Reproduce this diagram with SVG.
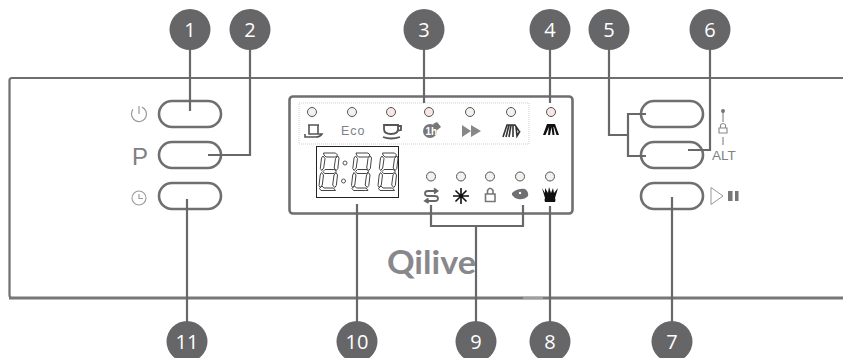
<svg xmlns="http://www.w3.org/2000/svg" width="843" height="358" viewBox="0 0 843 358">
<style>
.num{font-family:"Open Sans","Liberation Sans",sans-serif;font-size:20px;fill:#fff;text-anchor:middle}
.bub{fill:#666668}
.btn{fill:#fff;stroke:#6f6f72;stroke-width:2.6}
.conn{fill:none;stroke:#68686b;stroke-width:2.2}
.led{fill:#f3f0ee;stroke:#555;stroke-width:1}
.ledp{fill:#f6e6e4;stroke:#555;stroke-width:1}
.ic{fill:none;stroke:#666;stroke-width:1.6}
.icd{fill:none;stroke:#111;stroke-width:1.6}
.seg{fill:none;stroke:#444;stroke-width:1}
.lab{font-family:"Liberation Sans",Arial,sans-serif;fill:#808083}
</style>
<defs>
<g id="digit" class="seg">
<path d="M3.500 0H15.500L17.500 2L16 4H6L4 2Z"/>
<path d="M3 3L5 5.500L3.700 15L1.700 17.500L.3 15.500L1.500 5Z"/>
<path d="M17.800 3L19 5L17.800 15.500L16.200 17.500L14.200 15L15.500 5.500Z"/>
<path d="M3 18.500L5 16.500H14.500L16 18.500L14 20.500H4.500Z"/>
<path d="M1.500 19.500L3.500 22L2.300 32L.2 34.500L-1 32.500L.2 22Z"/>
<path d="M16 19.500L17.500 22L16.300 32.500L14.700 34.500L12.700 32L14 22Z"/>
<path d="M2 33L4 35H13.500L15.500 37.500L13 37.500H1L-.5 35.500Z"/>
</g>
</defs>
<g id="panel">
<path d="M843 78H12Q9.500 78 9.500 80.500V295Q9.500 298 12 298H843" fill="none" stroke="#6f6f72" stroke-width="2.200"/>
<path d="M9 298H843" stroke="#77777a" stroke-width="3.200"/>
<path d="M523 298H543" stroke="#c8c8c8" stroke-width="1"/>
<text x="387" y="274" textLength="89" lengthAdjust="spacingAndGlyphs" style="font-family:Lato,'Liberation Sans',sans-serif;font-size:32px;font-weight:700;fill:#88888c">Qilive</text>
</g>
<g id="display">
<rect x="289.500" y="96.500" width="283" height="117" rx="3.500" fill="none" stroke="#6f6f72" stroke-width="2.600"/>
<rect x="299" y="103" width="230" height="41" fill="none" stroke="#cfcfcf" stroke-width="1" stroke-dasharray="1 1"/>
<rect x="316.500" y="146.500" width="82" height="51" fill="#fff" stroke="#222" stroke-width="1"/>
<use href="#digit" transform="translate(320 153)"/>
<use href="#digit" transform="translate(352.500 153)"/>
<use href="#digit" transform="translate(379 153)"/>
<circle cx="345" cy="163" r="2" fill="none" stroke="#555"/>
<circle cx="343.500" cy="181" r="2" fill="none" stroke="#555"/>
<circle class="led" cx="312" cy="112" r="4.500"/>
<circle class="led" cx="352" cy="112" r="4.500"/>
<circle class="ledp" cx="391" cy="112" r="4.500"/>
<circle class="ledp" cx="429" cy="112" r="4.500"/>
<circle class="led" cx="470" cy="112" r="4.500"/>
<circle class="led" cx="511" cy="112" r="4.500"/>
<circle class="ledp" cx="551" cy="112" r="4.500"/>
<circle class="led" cx="431" cy="176.500" r="4.500"/>
<circle class="led" cx="461" cy="176.500" r="4.500"/>
<circle class="led" cx="490" cy="176.500" r="4.500"/>
<circle class="led" cx="520" cy="176.500" r="4.500"/>
<circle class="led" cx="550" cy="176.500" r="4.500"/>
<path class="ic" style="stroke:#555" d="M308 125H319M309 125V134H318V125M305 134V137H316Q320 137 322 134H318"/>
<text class="lab" x="341" y="135" style="font-size:12.500px;letter-spacing:1px">Eco</text>
<path class="ic" style="stroke:#555;stroke-width:1.800" d="M384 125H398V129Q398 134 391 134Q384 134 384 129ZM398 126H401V130L397 131M383 137Q391 140 400 137"/>
<circle cx="430" cy="131" r="7" fill="#777"/>
<path d="M433 124L437 122L441 127L436 131L435 128Z" fill="#777"/>
<text x="425.500" y="135" style="font-family:'Liberation Sans',sans-serif;font-size:10px;font-weight:700;fill:#fff">1h</text>
<path d="M462 125L471 131L462 137ZM471 125L481 131L471 137Z" fill="#888"/>
<path class="icd" d="M503 137L507 125H515L519 131M506 137L509 125M509 137L511 125M513 125V137M516 127L517 136L520 131" style="stroke:#333"/>
<path d="M543 135L547 124H555L559 135H556.500L554 127H553.500L554.500 135H552.500L551.500 127L550 135H548L549 127L545.500 135Z" fill="#111"/>
<path class="ic" style="stroke:#666;stroke-width:1.800" d="M437 191H428Q425 191 425 193.500Q425 196 428 196H435Q438 196 438 198.500Q438 201 435 201H426M434 188.500L437.500 191L434 193.500M428.500 198.500L425 201L428.500 203"/>
<path class="icd" d="M461 188V204M453 196H469M455.500 190.500L466.500 201.500M466.500 190.500L455.500 201.500" style="stroke-width:1.600"/>
<path class="ic" d="M485.500 194H495V201.500H485.500ZM487.500 194V190.500Q490 186 493 190.500V194" style="stroke:#777"/>
<path d="M512 193Q518 188 525 189Q529 192 528 196Q524 200 518 199Q514 198 512 195Z" fill="#6f6f72"/>
<circle cx="520" cy="193" r="1.200" fill="#fff"/>
<path d="M542 188L545 193L545 188L548 193L549 187L551 193L553 188L554 193L558 188L555 198Q556 200 555 202H545Q544 200 545 198Z" fill="#111"/>
</g>
<g id="btn-left-1"><rect class="btn" x="159" y="101" width="62" height="26" rx="13"/><circle cx="139" cy="114" r="7.500" fill="none" stroke="#999" stroke-width="1.200" stroke-dasharray="37 10" transform="rotate(-67 139 114)"/><path d="M139 106V114" stroke="#999" stroke-width="1.200"/></g>
<g id="btn-left-2"><rect class="btn" x="159" y="142" width="62" height="26" rx="13"/><text x="132" y="165" class="lab" style="font-family:'Liberation Sans',sans-serif;font-size:24px">P</text></g>
<g id="btn-left-3"><rect class="btn" x="159" y="183" width="62" height="26" rx="13"/><circle cx="139" cy="198" r="7" fill="none" stroke="#999" stroke-width="1.100"/><path d="M139 194V198.500H143" fill="none" stroke="#999" stroke-width="1.100"/></g>
<g id="btn-right-1"><rect class="btn" x="641" y="101" width="62" height="26" rx="13"/></g>
<g id="btn-right-2"><rect class="btn" x="641" y="142" width="62" height="26" rx="13"/><circle cx="723" cy="111" r="2" fill="#777"/><path d="M723 112V122M723 137V145" stroke="#777" stroke-width="1"/><path d="M719 128H727V133H719ZM720.500 128V125Q723 122 725.500 125V128" fill="none" stroke="#888" stroke-width="1.100"/><text class="lab" x="712" y="160" style="font-size:13.500px">ALT</text></g>
<g id="btn-right-3"><rect class="btn" x="641" y="183" width="62" height="26" rx="13"/><path d="M711 187.500L723 196L711 204.500Z" fill="none" stroke="#999" stroke-width="1"/><path d="M728 191H732.500V201H728ZM735 191H738.500V201H735Z" fill="#777"/></g>
<g id="connectors" class="conn">
<path d="M190 49V111"/>
<path d="M250 49V155H208"/>
<path d="M424 49V103"/>
<path d="M550 49V103"/>
<path d="M609 49V135H628"/>
<path d="M646 114H628V156H646"/>
<path d="M710 49V150H688"/>
<path d="M672 197V322"/>
<path d="M550 206V322"/>
<path d="M476 226V322"/>
<path d="M431 205V226H523V205"/>
<path d="M357 204V322"/>
<path d="M187 199V322"/>
</g>
<g id="n1"><circle class="bub" cx="190" cy="29.500" r="20.500"/><text class="num" x="190" y="37">1</text></g>
<g id="n2"><circle class="bub" cx="250" cy="29.500" r="20.500"/><text class="num" x="250" y="37">2</text></g>
<g id="n3"><circle class="bub" cx="424" cy="29.500" r="20.500"/><text class="num" x="424" y="37">3</text></g>
<g id="n4"><circle class="bub" cx="550" cy="29.500" r="20.500"/><text class="num" x="550" y="37">4</text></g>
<g id="n5"><circle class="bub" cx="609" cy="29.500" r="20.500"/><text class="num" x="609" y="37">5</text></g>
<g id="n6"><circle class="bub" cx="710" cy="29.500" r="20.500"/><text class="num" x="710" y="37">6</text></g>
<g id="n7"><circle class="bub" cx="672" cy="341.500" r="20.500"/><text class="num" x="672" y="349">7</text></g>
<g id="n8"><circle class="bub" cx="550" cy="341.500" r="20.500"/><text class="num" x="550" y="349">8</text></g>
<g id="n9"><circle class="bub" cx="476" cy="341.500" r="20.500"/><text class="num" x="476" y="349">9</text></g>
<g id="n10"><circle class="bub" cx="357" cy="341.500" r="20.500"/><text class="num" x="357" y="349">10</text></g>
<g id="n11"><circle class="bub" cx="187" cy="341.500" r="20.500"/><text class="num" x="187" y="349">11</text></g>
</svg>
